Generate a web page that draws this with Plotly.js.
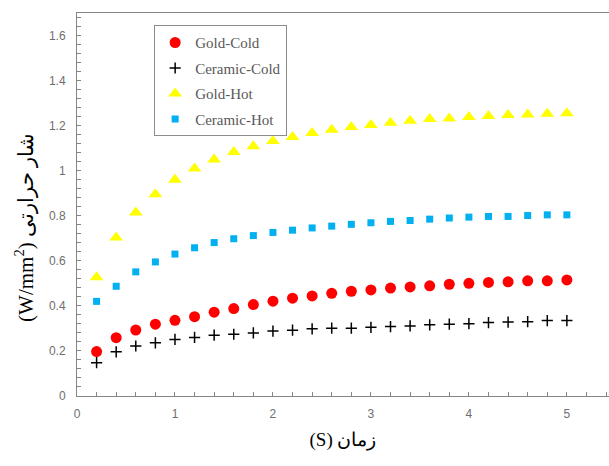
<!DOCTYPE html>
<html><head><meta charset="utf-8">
<script src="https://cdn.plot.ly/plotly-3.0.1.min.js"></script>
<style>html,body{margin:0;padding:0;background:#fff}#chart{width:609px;height:466px}</style>
</head><body><div id="chart"></div>
<script>
const time = [0.2,0.4,0.6,0.8,1.0,1.2,1.4,1.6,1.8,2.0,2.2,2.4,2.6,2.8,3.0,3.2,3.4,3.6,3.8,4.0,4.2,4.4,4.6,4.8,5.0];
const goldCold = [0.197,0.259,0.293,0.319,0.336,0.352,0.372,0.388,0.406,0.421,0.434,0.444,0.456,0.465,0.471,0.479,0.484,0.489,0.496,0.500,0.504,0.507,0.511,0.511,0.515];
const ceramicCold = [0.148,0.196,0.222,0.236,0.251,0.260,0.270,0.274,0.280,0.288,0.292,0.298,0.301,0.301,0.305,0.308,0.311,0.316,0.319,0.321,0.326,0.328,0.330,0.335,0.335];
const goldHot = [0.527,0.704,0.815,0.896,0.960,1.010,1.050,1.083,1.108,1.132,1.150,1.167,1.182,1.194,1.203,1.213,1.222,1.230,1.232,1.238,1.243,1.247,1.250,1.253,1.255];
const ceramicHot = [0.420,0.487,0.551,0.595,0.630,0.658,0.681,0.698,0.712,0.726,0.736,0.746,0.754,0.762,0.769,0.775,0.779,0.785,0.790,0.794,0.797,0.797,0.801,0.804,0.804];
const seriesNames = ['Gold-Cold','Ceramic-Cold','Gold-Hot','Ceramic-Hot'];
const xTitle = '(S) زمان';
const yTitle = '(W/mm<sup>2</sup>) شار حرارتی';

const traces = [
  {x: time, y: goldCold, name: seriesNames[0], legendgroup: 'a', mode: 'markers',
   marker: {symbol: 'circle', size: 11, color: '#ff0000'}},
  {x: time, y: ceramicCold, name: seriesNames[1], legendgroup: 'b', mode: 'markers',
   marker: {symbol: 'cross-thin', size: 8, color: '#000000', line: {color: '#000000', width: 1.5}}},
  {x: time, y: goldHot, name: seriesNames[2], legendgroup: 'c', mode: 'markers',
   marker: {symbol: 'triangle-up', size: 12, color: '#ffff00'}},
  {x: time, y: ceramicHot, name: seriesNames[3], legendgroup: 'd', mode: 'markers',
   marker: {symbol: 'square', size: 7, color: '#00b0f0'}}
];

const tickFont = {family: 'Liberation Sans, Arial, sans-serif', size: 12, color: '#6e6e6e'};
const serif = 'Liberation Serif, Times New Roman, serif';
const layout = {
  width: 609, height: 466,
  margin: {l: 77, r: 0, t: 13, b: 70},
  paper_bgcolor: '#ffffff', plot_bgcolor: '#ffffff',
  showlegend: true,
  legend: {x: 0.145, y: 0.968, xanchor: 'left', yanchor: 'top',
    bgcolor: '#ffffff', bordercolor: '#8c8c8c', borderwidth: 1,
    font: {family: serif, size: 15, color: '#595959'},
    tracegroupgap: 3, itemwidth: 30},
  xaxis: {
    range: [0, 5.43], dtick: 1, tick0: 0, showgrid: false, zeroline: false,
    showline: true, linecolor: '#868686', linewidth: 1, mirror: true,
    ticks: 'inside', ticklen: 4, tickcolor: '#868686',
    minor: {dtick: 0.2, ticks: 'inside', ticklen: 4, tickcolor: '#868686', showgrid: false},
    tickfont: tickFont, ticklabelstandoff: 7,
    title: {text: xTitle, standoff: 12, font: {family: serif, size: 19, color: '#000000'}}
  },
  yaxis: {
    range: [0, 1.7], dtick: 0.2, tick0: 0, showgrid: false, zeroline: false,
    showline: true, linecolor: '#868686', linewidth: 1,
    ticks: 'inside', ticklen: 4, tickcolor: '#868686',
    minor: {dtick: 0.04, ticks: 'inside', ticklen: 4, tickcolor: '#868686', showgrid: false},
    tickfont: tickFont, ticklabelstandoff: 8
  },
  annotations: [{
    text: yTitle, textangle: -90, showarrow: false,
    xref: 'paper', yref: 'paper', x: -0.097, y: 0.44, xanchor: 'center', yanchor: 'middle',
    font: {family: serif, size: 21, color: '#000000'}
  }]
};
Plotly.newPlot('chart', traces, layout, {displayModeBar: false, staticPlot: true});
</script>
</body></html>
